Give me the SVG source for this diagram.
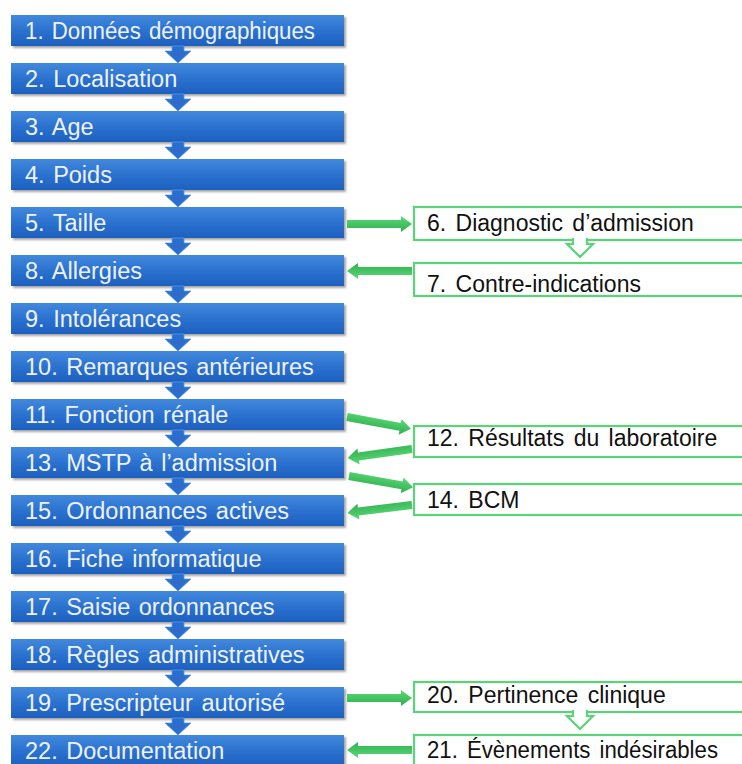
<svg xmlns="http://www.w3.org/2000/svg" width="742" height="764" viewBox="0 0 742 764">
<defs>
<linearGradient id="bg" x1="0" y1="0" x2="0" y2="1">
<stop offset="0" stop-color="#4189dc"/>
<stop offset="0.5" stop-color="#2c72d0"/>
<stop offset="1" stop-color="#1d5fbf"/>
</linearGradient>
<linearGradient id="gg" x1="0" y1="0" x2="0" y2="1">
<stop offset="0" stop-color="#5fd97c"/>
<stop offset="0.5" stop-color="#45c462"/>
<stop offset="1" stop-color="#34ad52"/>
</linearGradient>
<filter id="sh" x="-5%" y="-20%" width="110%" height="150%">
<feDropShadow dx="2" dy="2" stdDeviation="1.3" flood-color="#000" flood-opacity="0.35"/>
</filter>
<path id="ga" d="M0,-4 H54 V-8 L65,0 L54,8 V4 H0 Z"/>
<path id="ba" d="M-6,0 V5 H-13 L0,17 L13,5 H6 V0 Z"/>
</defs>
<style>
.b{fill:url(#bg);filter:url(#sh)}
.bt{font-family:"Liberation Sans",Arial,sans-serif;font-size:23.5px;fill:#eef2f8;word-spacing:2px}
.g{fill:#fff;stroke:#5ad379;stroke-width:2.2}
.gt{font-family:"Liberation Sans",Arial,sans-serif;font-size:23px;fill:#111;word-spacing:3px}
.ga{fill:url(#gg)}
.ba{fill:#2a6dcc;stroke:#5c9ae6;stroke-width:0.8}
.ho{fill:#fff;stroke:#5ad379;stroke-width:2.2;stroke-linejoin:miter}
</style>
<rect width="742" height="764" fill="#fff"/>
<g id="n1"><rect class="b" x="11" y="15" width="333" height="31"/><text class="bt" x="25" y="38.5" textLength="290" lengthAdjust="spacingAndGlyphs">1. Données démographiques</text></g>
<g id="n2"><rect class="b" x="11" y="63" width="333" height="31"/><text class="bt" x="25" y="86.5">2. Localisation</text></g>
<g id="n3"><rect class="b" x="11" y="111" width="333" height="31"/><text class="bt" x="25" y="134.5">3. Age</text></g>
<g id="n4"><rect class="b" x="11" y="159" width="333" height="31"/><text class="bt" x="25" y="182.5">4. Poids</text></g>
<g id="n5"><rect class="b" x="11" y="207" width="333" height="31"/><text class="bt" x="25" y="230.5">5. Taille</text></g>
<g id="n8"><rect class="b" x="11" y="255" width="333" height="31"/><text class="bt" x="25" y="278.5">8. Allergies</text></g>
<g id="n9"><rect class="b" x="11" y="303" width="333" height="31"/><text class="bt" x="25" y="326.5">9. Intolérances</text></g>
<g id="n10"><rect class="b" x="11" y="351" width="333" height="31"/><text class="bt" x="25" y="374.5">10. Remarques antérieures</text></g>
<g id="n11"><rect class="b" x="11" y="399" width="333" height="31"/><text class="bt" x="25" y="422.5">11. Fonction rénale</text></g>
<g id="n13"><rect class="b" x="11" y="447" width="333" height="31"/><text class="bt" x="25" y="470.5">13. MSTP à l’admission</text></g>
<g id="n15"><rect class="b" x="11" y="495" width="333" height="31"/><text class="bt" x="25" y="518.5">15. Ordonnances actives</text></g>
<g id="n16"><rect class="b" x="11" y="543" width="333" height="31"/><text class="bt" x="25" y="566.5">16. Fiche informatique</text></g>
<g id="n17"><rect class="b" x="11" y="591" width="333" height="31"/><text class="bt" x="25" y="614.5">17. Saisie ordonnances</text></g>
<g id="n18"><rect class="b" x="11" y="639" width="333" height="31"/><text class="bt" x="25" y="662.5">18. Règles administratives</text></g>
<g id="n19"><rect class="b" x="11" y="687" width="333" height="31"/><text class="bt" x="25" y="710.5">19. Prescripteur autorisé</text></g>
<g id="n22"><rect class="b" x="11" y="735" width="333" height="31"/><text class="bt" x="25" y="758.5">22. Documentation</text></g>

<g id="n6"><rect class="g" x="414" y="207" width="340" height="33"/><text class="gt" x="427" y="231">6. Diagnostic d’admission</text></g>
<g id="n7"><rect class="g" x="414" y="263" width="340" height="33"/><text class="gt" x="427" y="292">7. Contre-indications</text></g>
<g id="n12"><rect class="g" x="414" y="426" width="340" height="31"/><text class="gt" x="427" y="446">12. Résultats du laboratoire</text></g>
<g id="n14"><rect class="g" x="414" y="484" width="340" height="31"/><text class="gt" x="427" y="508">14. BCM</text></g>
<g id="n20"><rect class="g" x="414" y="682" width="340" height="30"/><text class="gt" x="427" y="703">20. Pertinence clinique</text></g>
<g id="n21"><rect class="g" x="414" y="735" width="340" height="40"/><text class="gt" x="427" y="758" textLength="291" lengthAdjust="spacingAndGlyphs">21. Évènements indésirables</text></g>

<g id="connectors">
<use href="#ba" class="ba" x="178" y="46"/>
<use href="#ba" class="ba" x="178" y="94"/>
<use href="#ba" class="ba" x="178" y="142"/>
<use href="#ba" class="ba" x="178" y="190"/>
<use href="#ba" class="ba" x="178" y="238"/>
<use href="#ba" class="ba" x="178" y="286"/>
<use href="#ba" class="ba" x="178" y="334"/>
<use href="#ba" class="ba" x="178" y="382"/>
<use href="#ba" class="ba" x="178" y="430"/>
<use href="#ba" class="ba" x="178" y="478"/>
<use href="#ba" class="ba" x="178" y="526"/>
<use href="#ba" class="ba" x="178" y="574"/>
<use href="#ba" class="ba" x="178" y="622"/>
<use href="#ba" class="ba" x="178" y="670"/>
<use href="#ba" class="ba" x="178" y="718"/>

<use href="#ga" class="ga" transform="translate(347,224)"/>
<use href="#ga" class="ga" transform="translate(412,271) rotate(180)"/>
<use href="#ga" class="ga" transform="translate(347,417) rotate(10.5)"/>
<use href="#ga" class="ga" transform="translate(412,449) rotate(172)"/>
<use href="#ga" class="ga" transform="translate(349,476) rotate(10)"/>
<use href="#ga" class="ga" transform="translate(412,505) rotate(173)"/>
<use href="#ga" class="ga" transform="translate(347,698)"/>
<use href="#ga" class="ga" transform="translate(412,750) rotate(180)"/>

<path class="ho" d="M573,238 V244 H567 L580,257 L593,244 H587 V238"/>
<path class="ho" d="M573,710 V716 H567 L580,729 L593,716 H587 V710"/>
</g>
</svg>
